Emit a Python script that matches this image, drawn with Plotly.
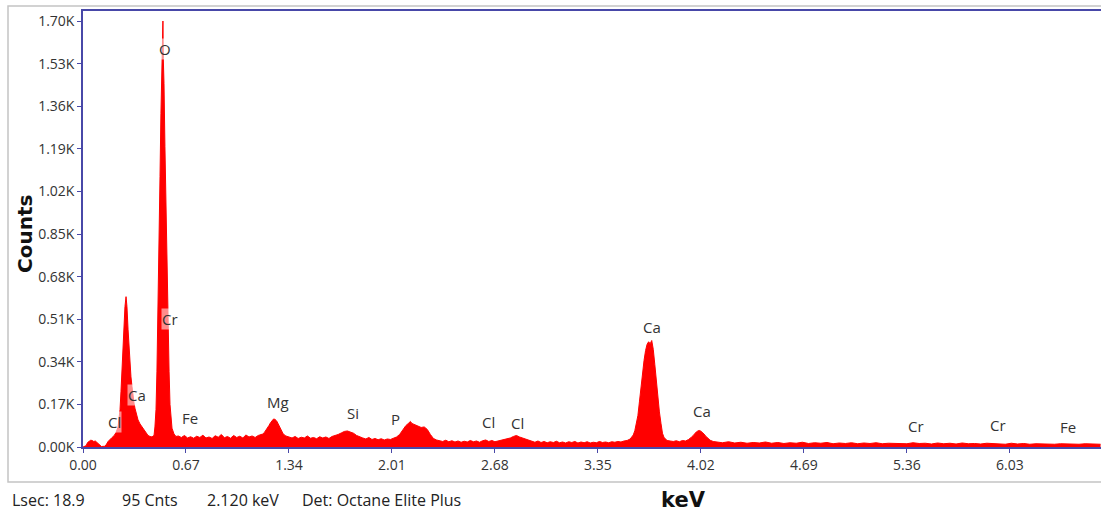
import plotly.graph_objects as go

# ---------------- data ----------------
energy_kev = [
    0.00, 0.02, 0.03, 0.04, 0.05, 0.06, 0.07, 0.08, 0.09, 0.10, 0.11, 0.12, 0.14, 0.15,
    0.163, 0.176, 0.189, 0.202, 0.215, 0.228, 0.234, 0.241, 0.247, 0.254, 0.260, 0.267,
    0.273, 0.280, 0.286, 0.293, 0.299, 0.306, 0.312, 0.319, 0.325, 0.332, 0.338, 0.345,
    0.351, 0.358, 0.371, 0.384, 0.397, 0.410, 0.423, 0.436, 0.449, 0.455,
    0.462, 0.468, 0.475, 0.481, 0.488, 0.494, 0.501, 0.507, 0.514, 0.518, 0.520, 0.5225,
    0.527, 0.533, 0.540, 0.546, 0.553, 0.560, 0.566, 0.573, 0.579, 0.592, 0.605,
    0.62, 0.64, 0.66, 0.68, 0.70, 0.72, 0.74, 0.76, 0.78, 0.80, 0.82, 0.84, 0.86, 0.88,
    0.90, 0.92, 0.94, 0.96, 0.98, 1.00, 1.02, 1.04, 1.06, 1.08, 1.10, 1.12, 1.14, 1.16,
    1.17, 1.18, 1.19, 1.20, 1.21, 1.22, 1.23, 1.24, 1.25, 1.26, 1.27, 1.28, 1.29, 1.30,
    1.31, 1.32,
    1.34, 1.36, 1.38, 1.40, 1.42, 1.44, 1.46, 1.48, 1.50, 1.52, 1.54, 1.56, 1.58, 1.60,
    1.62, 1.64, 1.66, 1.68, 1.70, 1.72, 1.74, 1.76, 1.78, 1.80,
    1.82, 1.84, 1.86, 1.88, 1.90, 1.92, 1.94, 1.96, 1.98, 2.00, 2.02, 2.04,
    2.06, 2.08, 2.10, 2.12, 2.13, 2.14, 2.16, 2.18, 2.20, 2.22, 2.24, 2.26, 2.28, 2.30,
    2.32, 2.34, 2.36, 2.38, 2.40, 2.42, 2.44, 2.46, 2.48, 2.50, 2.52, 2.54, 2.56, 2.58,
    2.60, 2.62, 2.64, 2.66, 2.68, 2.70, 2.72, 2.74,
    2.76, 2.78, 2.80, 2.82, 2.84, 2.86, 2.88, 2.90,
    2.92, 2.94, 2.96, 2.98, 3.00, 3.02, 3.04, 3.06, 3.08, 3.10, 3.12, 3.14, 3.16, 3.18,
    3.20, 3.22, 3.24, 3.26, 3.28, 3.30, 3.32, 3.34, 3.36, 3.38, 3.40, 3.42, 3.44, 3.46,
    3.48, 3.50,
    3.52, 3.54, 3.56, 3.58, 3.59, 3.60, 3.61, 3.62, 3.63, 3.64, 3.65, 3.66, 3.67, 3.68,
    3.69, 3.70, 3.71, 3.72, 3.73, 3.74, 3.75, 3.76, 3.77, 3.78, 3.79, 3.80, 3.82,
    3.84, 3.86, 3.88, 3.90, 3.92, 3.94,
    3.95, 3.96, 3.97, 3.98, 3.99, 4.00, 4.01, 4.02, 4.03, 4.04, 4.05, 4.06, 4.07, 4.08,
    4.10,
    4.12, 4.16, 4.20, 4.24, 4.28, 4.32, 4.36, 4.40, 4.44, 4.48, 4.52, 4.56, 4.60, 4.64,
    4.68, 4.72, 4.76, 4.80, 4.84, 4.88, 4.92, 4.96, 5.00, 5.04, 5.08, 5.12, 5.16, 5.20,
    5.24, 5.28, 5.32, 5.36, 5.40, 5.44, 5.48, 5.52, 5.56, 5.60, 5.64, 5.68, 5.72, 5.76,
    5.80, 5.84, 5.88, 5.92, 5.96, 6.00, 6.04, 6.08, 6.12, 6.16, 6.20, 6.24, 6.28, 6.32,
    6.36, 6.40, 6.44, 6.48, 6.52, 6.56, 6.60, 6.62,
]

counts = [
    0, 5, 18, 24, 27, 26, 22, 24, 18, 12, 4, 2, 3, 8,
    22, 32, 38, 45, 58, 80, 105, 150, 220, 320, 420, 500,
    560, 600, 560, 470, 400, 330, 280, 240, 200, 175, 155, 135,
    120, 108, 92, 80, 65, 55, 46, 42, 40, 44,
    45, 80, 150, 300, 520, 800, 1080, 1330, 1500, 1560, 1700, 1550,
    1450, 1200, 950, 700, 480, 300, 170, 110, 75, 52, 42,
    44, 38, 46, 36, 41, 35, 43, 38, 47, 36, 40, 34, 45, 39,
    50, 37, 42, 35, 46, 38, 43, 36, 48, 40, 44, 38, 46, 50,
    52, 58, 66, 75, 86, 97, 106, 112, 110, 104, 92, 78, 64, 55,
    48, 44,
    40, 36, 42, 34, 39, 36, 44, 35, 38, 33, 41, 36, 40, 34,
    42, 45, 50, 56, 62, 64, 60, 55, 46, 40,
    36, 32, 38, 30, 34, 29, 33, 28, 32, 30, 35, 40,
    50, 68, 85, 96, 102, 94, 88, 82, 78, 80, 70, 50, 34, 28,
    26, 22, 27, 21, 25, 20, 24, 19, 23, 20, 26, 21, 24, 19,
    25, 28, 22, 26, 21, 24, 27, 30,
    32, 36, 42, 46, 40, 36, 30, 26,
    22, 19, 24, 18, 22, 17, 21, 18, 23, 17, 20, 16, 21, 18,
    22, 16, 20, 17, 21, 16, 19, 17, 22, 18, 20, 17, 21, 19,
    22, 20,
    24, 26, 32, 48, 65, 90, 125, 180, 240, 300, 345, 385, 410, 420,
    412, 425, 390, 330, 260, 200, 140, 95, 55, 38, 30, 26, 24,
    22, 25, 21, 26, 24, 30,
    34, 40, 46, 54, 60, 64, 66, 63, 58, 52, 44, 38, 32, 27,
    22,
    20, 17, 21, 16, 19, 15, 18, 16, 20, 15, 18, 14, 17, 15,
    19, 14, 17, 15, 18, 13, 16, 14, 17, 13, 16, 14, 17, 13,
    15, 14, 16, 13, 17, 14, 15, 12, 16, 13, 15, 12, 16, 13,
    14, 12, 15, 13, 14, 11, 15, 12, 14, 11, 13, 12, 14, 11,
    13, 12, 14, 11, 13, 12, 12, 11,
]

y_tick_vals = [0, 170, 340, 510, 680, 850, 1020, 1190, 1360, 1530, 1700]
y_tick_text = ["0.00K", "0.17K", "0.34K", "0.51K", "0.68K", "0.85K",
               "1.02K", "1.19K", "1.36K", "1.53K", "1.70K"]
x_tick_vals = [0.00, 0.67, 1.34, 2.01, 2.68, 3.35, 4.02, 4.69, 5.36, 6.03]
x_tick_text = ["0.00", "0.67", "1.34", "2.01", "2.68", "3.35", "4.02", "4.69", "5.36", "6.03"]

peak_names = ["Cl", "Ca", "O", "Cr", "Fe", "Mg", "Si", "P", "Cl", "Cl",
              "Ca", "Ca", "Cr", "Cr", "Fe"]
peak_label_kev = [0.208, 0.351, 0.534, 0.566, 0.696, 1.269, 1.757, 2.036, 2.635, 2.830,
                  3.702, 4.027, 5.420, 5.953, 6.409]
peak_label_counts = [100, 207, 1588, 511, 116, 180, 136, 112, 100, 96,
                     479, 144, 84, 88, 80]

status_texts = ["Lsec: 18.9", "95 Cnts", "2.120 keV", "Det: Octane Elite Plus"]

# ---------------- figure ----------------
W, H = 1101, 514
L, R, T, B = 83, 0, 11, 67
pw, ph = W - L - R, H - T - B


def px_x(px):
    return (px - L) / pw


def px_y(py):
    return (H - B - py) / ph


FONT = "Open Sans"
TITLE_FONT = "DejaVu Sans"
AXIS_BLUE = "#4848a8"

fig = go.Figure()
fig.add_trace(go.Scatter(
    x=energy_kev, y=counts, mode="lines",
    line=dict(color="#ff0000", width=1),
    fill="tozeroy", fillcolor="#ff0000",
    hoverinfo="skip", showlegend=False,
))

annotations = []
for name, xk, yc in zip(peak_names, peak_label_kev, peak_label_counts):
    annotations.append(dict(
        x=xk, y=yc, xref="x", yref="y", text=name, showarrow=False,
        font=dict(family=FONT, size=15, color="#333333"),
        bgcolor="rgba(255,255,255,0.55)", borderpad=0,
    ))

status_x_px = [10, 120, 205, 300]
for t, xp in zip(status_texts, status_x_px):
    annotations.append(dict(
        x=px_x(xp), y=px_y(500), xref="paper", yref="paper", text=t,
        showarrow=False, xanchor="left", yanchor="middle",
        font=dict(family=FONT, size=16, color="#222222"),
    ))

annotations.append(dict(
    x=px_x(683), y=px_y(500), xref="paper", yref="paper", text="<b>keV</b>",
    showarrow=False, xanchor="center", yanchor="middle",
    font=dict(family=TITLE_FONT, size=21, color="#111111"),
))
annotations.append(dict(
    x=px_x(25), y=px_y(234), xref="paper", yref="paper", text="<b>Counts</b>",
    showarrow=False, xanchor="center", yanchor="middle", textangle=-90,
    font=dict(family=TITLE_FONT, size=20, color="#111111"),
))

shapes = [
    # outer grey frame
    dict(type="rect", xref="paper", yref="paper",
         x0=px_x(8), x1=px_x(1110), y0=px_y(482), y1=px_y(6),
         line=dict(color="#c4c4c4", width=1.5), fillcolor="rgba(0,0,0,0)", layer="below"),
]

fig.update_layout(
    width=W, height=H,
    margin=dict(l=L, r=R, t=T, b=B, autoexpand=False),
    paper_bgcolor="white", plot_bgcolor="white",
    font=dict(family=FONT, size=13, color="#333333"),
    annotations=annotations, shapes=shapes,
    xaxis=dict(
        range=[0, 6.623], tickvals=x_tick_vals, ticktext=x_tick_text,
        showgrid=False, zeroline=False, showline=True, mirror=True,
        linecolor=AXIS_BLUE, linewidth=1.5, ticks="outside", ticklen=4,
        tickcolor=AXIS_BLUE, tickfont=dict(family=FONT, size=14, color="#333333"),
        automargin=False,
    ),
    yaxis=dict(
        range=[0, 1740], tickvals=y_tick_vals, ticktext=y_tick_text,
        showgrid=False, zeroline=False, showline=True, mirror=False,
        linecolor=AXIS_BLUE, linewidth=1.5, ticks="outside", ticklen=4,
        tickcolor=AXIS_BLUE, tickfont=dict(family=FONT, size=14, color="#333333"),
        automargin=False,
    ),
)

fig.write_html("out.html")
